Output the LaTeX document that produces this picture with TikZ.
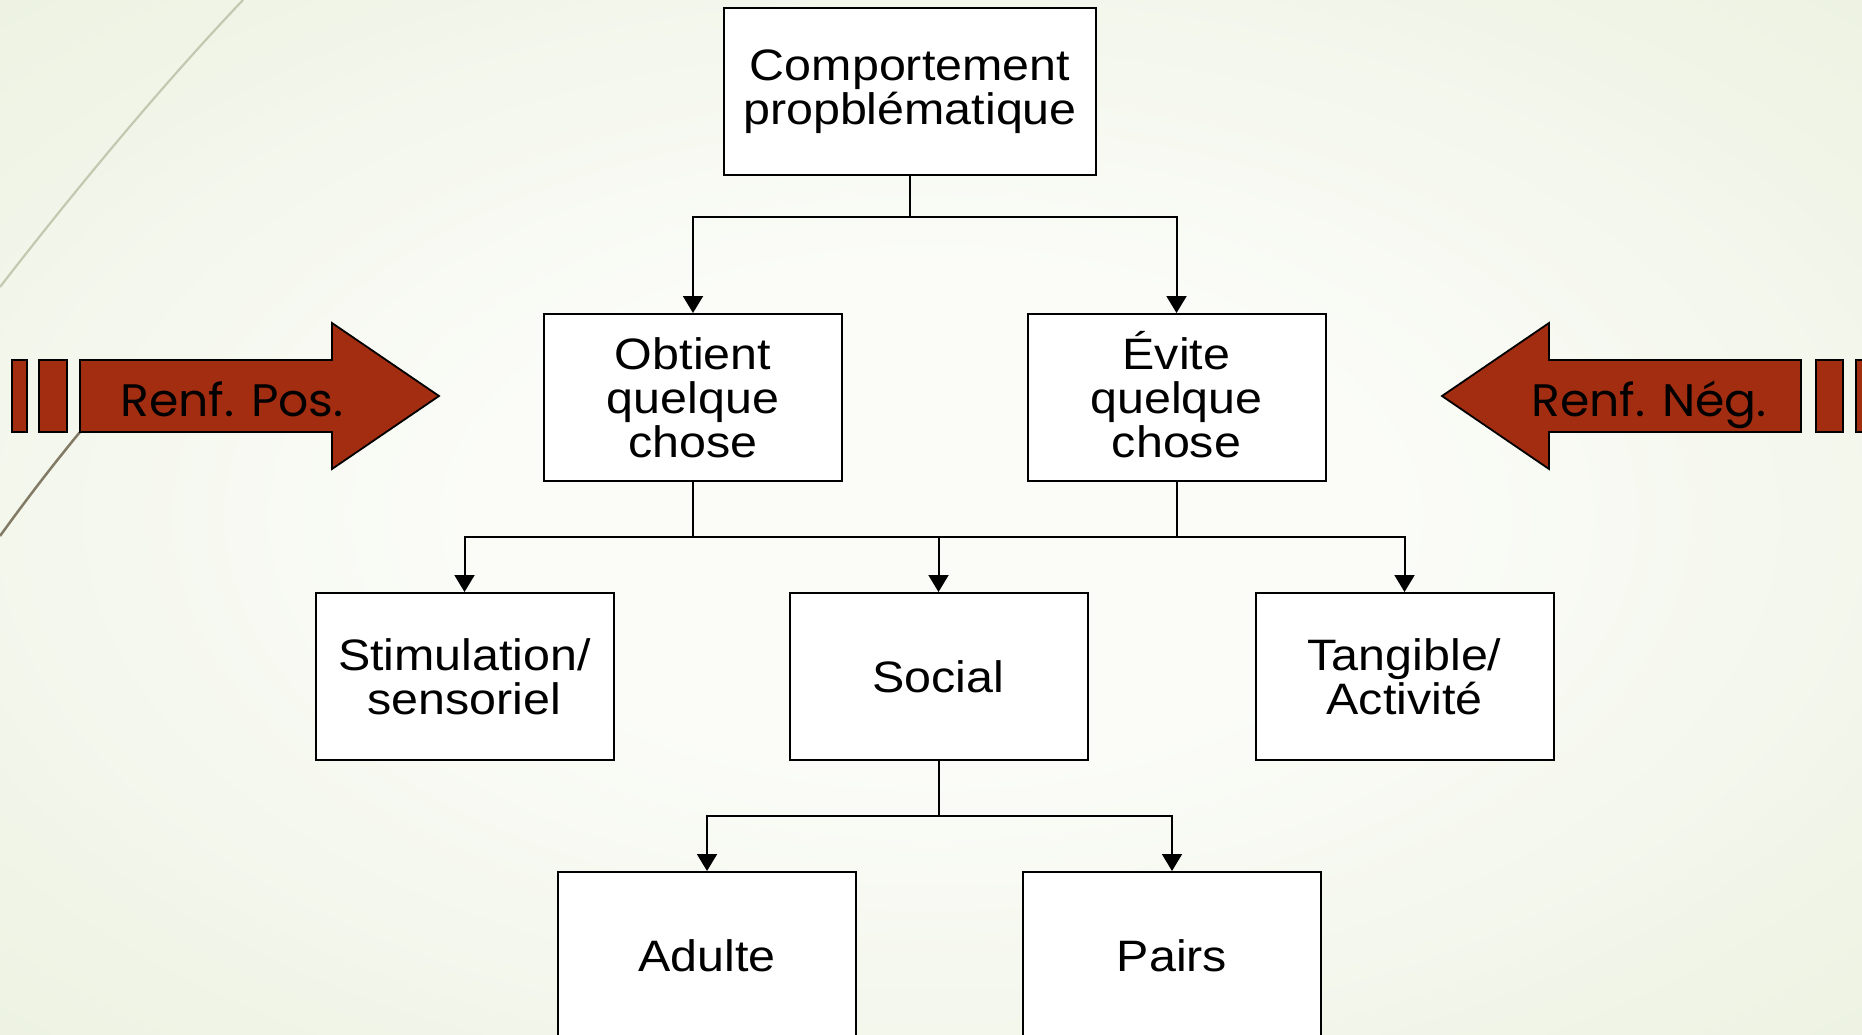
\documentclass[tikz,border=0pt]{standalone}
\usepackage{fontspec}
\setmainfont{Liberation Sans}
\newfontfamily\boxfont[FakeStretch=1.1]{Liberation Sans}
\newfontfamily\renffont[FakeStretch=1.04]{Poppins}
\usetikzlibrary{arrows.meta}
\definecolor{renfred}{RGB}{163,45,16}
\definecolor{bgedge}{RGB}{225,234,208}
\definecolor{bgmid}{RGB}{251,252,248}
\definecolor{arcpale}{RGB}{196,200,176}
\definecolor{arcdark}{RGB}{130,122,100}
\pgfdeclareradialshading{slideglow}{\pgfpoint{0bp}{0bp}}{color(0bp)=(bgmid); color(12bp)=(bgmid); color(55bp)=(bgedge); color(75bp)=(bgedge)}
\tikzset{
  box/.style={draw=black,line width=2pt,fill=white,minimum width=298pt,minimum height=167pt,
    inner sep=0pt,align=center,font=\boxfont\fontsize{44}{44}\selectfont},
  wire/.style={draw=black,line width=2pt},
  link/.style={wire,-{Triangle[width=20pt,length=17pt]}},
  renf/.style={fill=renfred,draw=black,line width=1.8pt},
  renftext/.style={anchor=base,inner sep=0pt,font=\renffont\fontsize{45.5}{45.5}\selectfont},
}

\begin{document}
\begin{tikzpicture}[x=1pt,y=-1pt]
  \useasboundingbox (0,0) rectangle (1862,1035);
  \begin{scope}
    \clip (0,0) rectangle (1862,1035);
    \shade[shading=slideglow] (0,0) rectangle (1862,1035);
    \draw[arcpale,line width=2.2pt] (0,287) .. controls (75,190) and (163,84) .. (243,0);
    \draw[arcdark,line width=2.5pt] (80,432) .. controls (52,466) and (26,500) .. (0,536);

    \draw[renf] (80,360) -- (332,360) -- (332,323) -- (439,396) -- (332,469) -- (332,432) -- (80,432) -- cycle;
    \draw[renf] (12,360) rectangle (27,432);
    \draw[renf] (39,360) rectangle (67,432);
    \node[renftext] (pos) at (232,416) {Renf. Pos.};

    \draw[renf] (1801,360) -- (1549,360) -- (1549,323) -- (1442,396) -- (1549,469) -- (1549,432) -- (1801,432) -- cycle;
    \draw[renf] (1816,360) rectangle (1843,432);
    \draw[renf] (1856,360) rectangle (1878,432);
    \node[renftext] (neg) at (1649,416) {Renf. Nég.};

    \node[box,minimum width=372pt] (top) at (910,91.5) {Comportement\\propblématique};
    \node[box] (obt) at (693,397.5) {Obtient\\quelque\\chose};
    \node[box] (evi) at (1176.5,397.5) {\smash{É}vite\\quelque\\chose};
    \node[box] (stim) at (464.5,676.5) {Stimulation/\\sensoriel};
    \node[box] (soc) at (938.5,676.5) {Social};
    \node[box] (tang) at (1404.5,676.5) {Tangible/\\Activité};
    \node[box] (adu) at (707,955.5) {Adulte};
    \node[box] (pai) at (1172,955.5) {Pairs};

    \coordinate (bus1) at (0,217);
    \coordinate (bus2) at (0,537);
    \coordinate (bus3) at (0,816);
    \draw[link] (top.south) |- (bus1 -| obt.north) -- (obt.north);
    \draw[link] (top.south |- bus1) -| (evi.north);
    \draw[wire] (obt.south) |- (bus2 -| evi.south) -- (evi.south);
    \draw[link] (obt.south |- bus2) -| (stim.north);
    \draw[link] (evi.south |- bus2) -| (tang.north);
    \draw[link] (soc.north |- bus2) -- (soc.north);
    \draw[link] (soc.south) |- (bus3 -| adu.north) -- (adu.north);
    \draw[link] (soc.south |- bus3) -| (pai.north);
  \end{scope}
\end{tikzpicture}
\end{document}
